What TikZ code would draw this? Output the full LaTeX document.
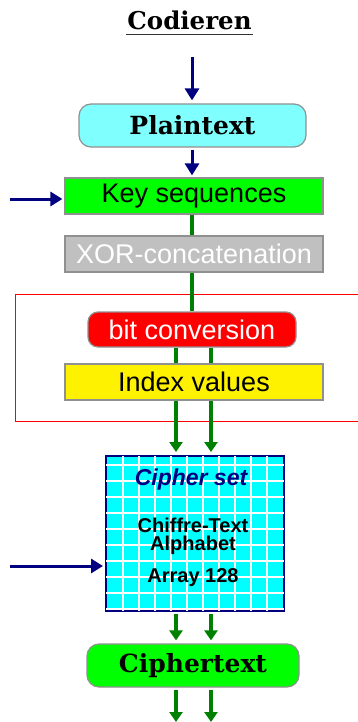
\documentclass[tikz,border=0pt]{standalone}
\usepackage{fontspec}
\setmainfont{Liberation Sans}
\newfontfamily\slabfont{DejaVu Serif}
\usetikzlibrary{arrows.meta,calc,positioning}
\definecolor{CodeNavy}{HTML}{000080}
\definecolor{CodeGreen}{HTML}{008000}
\definecolor{CodeLime}{HTML}{00FF00}
\definecolor{CodeCyan}{HTML}{00FFFF}
\definecolor{CodeSky}{HTML}{80FFFF}
\definecolor{CodeGrey}{HTML}{C0C0C0}
\definecolor{CodeEdge}{HTML}{909090}
\tikzset{
  stagebox/.style={draw=CodeEdge,line width=1.2pt,inner sep=0pt,
    font=\fontsize{27}{27}\selectfont},
  slabbox/.style={stagebox,rounded corners=12pt,
    font=\slabfont\bfseries\fontsize{25}{25}\selectfont},
  arraytext/.style={anchor=base,inner sep=0pt,font=\bfseries\fontsize{20}{20}\selectfont},
  navyarrow/.style={-{Triangle[length=12pt,width=14pt]},line width=3pt,CodeNavy},
  greenline/.style={line width=4pt,CodeGreen},
  greenarrow/.style={greenline,-{Triangle[length=10pt,width=13pt]}},
}

\begin{document}
\begin{tikzpicture}[x=1pt,y=-1pt]
  \useasboundingbox (0,0) rectangle (358,722);
  % title
  \node[font=\slabfont\bfseries\fontsize{24.5}{24.5}\selectfont] (title) at (189.5,20) {Codieren};
  \draw[line width=1.5pt,black!80] (126,34.5) -- (253,34.5);

  % red frame round the conversion stage
  \draw[red,line width=1pt] (360,294) -- (15,294) -- (15,421) -- (360,421);

  % stages
  \node[slabbox,fill=CodeSky,minimum width=227pt,minimum height=43pt] (plain) at (192.5,125.5) {Plaintext};
  \node[stagebox,fill=CodeLime,minimum width=258pt,minimum height=36pt] (keys) at (194,196) {Key sequences};
  \node[stagebox,fill=CodeGrey,text=white,minimum width=258pt,minimum height=36pt] (xor) at (194,254) {XOR-concatenation};
  \node[stagebox,fill=red,text=white,rounded corners=10pt,minimum width=208pt,minimum height=35pt] (bits) at (192,329.5) {bit conversion};
  \node[stagebox,fill=yellow,minimum width=258pt,minimum height=36pt] (index) at (194,382) {Index values};
  \node[draw=CodeNavy,line width=2pt,fill=CodeCyan,minimum width=178pt,minimum height=155pt] (cipher) at (195,533.5) {};
  \node[slabbox,fill=CodeLime,minimum width=212pt,minimum height=43pt] (ctext) at (193,665.5) {Ciphertext};

  % grid of the cipher set
  \foreach \gx in {123,139,...,268}
    \draw[white,line width=1.3pt] (\gx,456) -- (\gx,611);
  \foreach \gy in {465,481,...,610}
    \draw[white,line width=1.3pt] (106,\gy) -- (284,\gy);

  \node[anchor=base,inner sep=0pt,text=CodeNavy,font=\bfseries\itshape\fontsize{23}{23}\selectfont] (cset) at (191,485) {Cipher set};
  \node[arraytext] (chiffre) at (193,532) {Chiffre-Text};
  \node[arraytext] (alpha) at (193,550.5) {Alphabet};
  \node[arraytext] (array) at (193,582) {Array 128};

  % connectors
  \coordinate (in1) at (192,57);
  \coordinate (key1) at (10,199);
  \coordinate (key2) at (10,566);
  \coordinate (out1) at (176,722);
  \coordinate (out2) at (211,722);
  \draw[navyarrow,shorten >=3pt] (in1) -- (in1 |- plain.north);
  \draw[navyarrow,shorten <=2pt,shorten >=2pt] (plain.south -| in1) -- (in1 |- keys.north);
  \draw[navyarrow,shorten >=2pt] (key1) -- (key1 -| keys.west);
  \draw[navyarrow,shorten >=2pt] (key2) -- (key2 -| cipher.west);
  \draw[greenline] (in1 |- keys.south) -- (in1 |- xor.north);
  \draw[greenline] (in1 |- xor.south) -- (in1 |- bits.north);
  \foreach \sx in {176,211} {
    \draw[greenline] (\sx,0 |- bits.south) -- (\sx,0 |- index.north);
    \draw[greenarrow,shorten >=3pt] (\sx,0 |- index.south) -- (\sx,0 |- cipher.north);
    \draw[greenarrow,shorten <=2pt,shorten >=3pt] (\sx,0 |- cipher.south) -- (\sx,0 |- ctext.north);
  }
  \draw[greenarrow,shorten <=2pt] (out1 |- ctext.south) -- (out1);
  \draw[greenarrow,shorten <=2pt] (out2 |- ctext.south) -- (out2);
\end{tikzpicture}
\end{document}
